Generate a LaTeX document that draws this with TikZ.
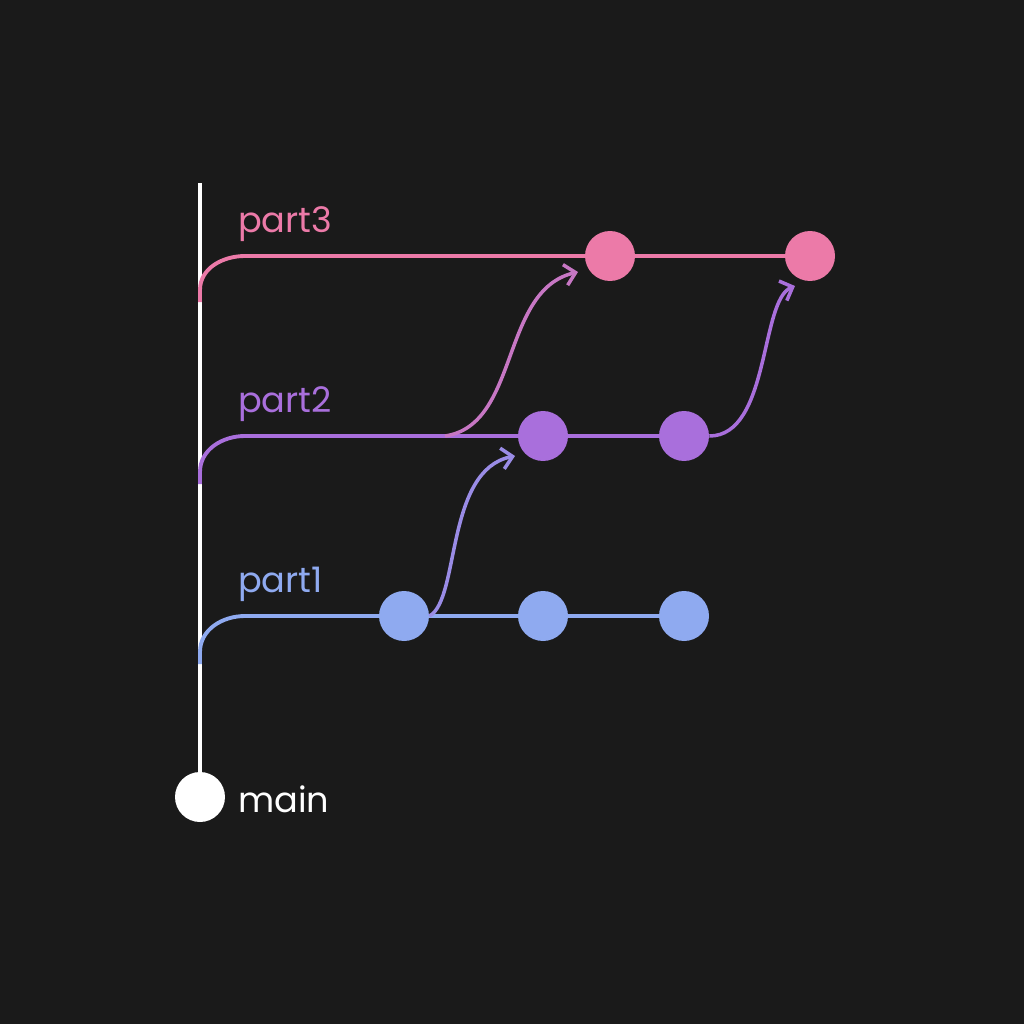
\documentclass[tikz,border=0pt]{standalone}
\usepackage{fontspec}
\setmainfont{Poppins}
\usetikzlibrary{arrows.meta}
\definecolor{bg}{HTML}{1A1A1A}
\definecolor{pinkc}{HTML}{EC7AA8}
\definecolor{purpc}{HTML}{A96FDC}
\definecolor{bluec}{HTML}{8FAAF0}
\definecolor{mixc}{HTML}{9A8CE6}
\definecolor{mixd}{HTML}{C777C4}
\tikzset{
  commit/.style={circle,fill=#1,minimum size=1.0cm,inner sep=0pt},
  branch/.style={line width=2.2pt,#1},
  merge/.style={line width=2pt,#1,-{Straight Barb[length=6pt,width=12pt]}},
  lbl/.style={font=\fontsize{20}{24}\selectfont,text=#1,anchor=west}
}
\begin{document}
\begin{tikzpicture}[x=0.02cm,y=-0.02cm]

    % background
    \fill[bg] (0,0) rectangle (1024,1024);
    \useasboundingbox (0,0) rectangle (1024,1024);

    % main line
    \coordinate (top) at (200,183);
    \draw[branch=white] (top) -- (200,797);
    \node[commit=white] (m) at (200,797) {};
    \node[lbl=white] at (232,799) {main};

    % branches
    \draw[branch=pinkc] (200,302) -- (200,290) to[out=90,in=180] (245,256) -- (810,256);
    \draw[branch=purpc] (200,484) -- (200,472) to[out=90,in=180] (245,436) -- (684,436);
    \draw[branch=bluec] (200,664) -- (200,652) to[out=90,in=180] (245,616) -- (684,616);

    % labels
    \node[lbl=pinkc] at (232,224) {part3};
    \node[lbl=purpc] at (232,404) {part2};
    \node[lbl=bluec] at (232,584) {part1};

    % commits
    \node[commit=pinkc] (c31) at (610,256) {};
    \node[commit=pinkc] (c32) at (810,256) {};
    \node[commit=purpc] (c21) at (543,436) {};
    \node[commit=purpc] (c22) at (684,436) {};
    \node[commit=bluec] (c11) at (404,616) {};
    \node[commit=bluec] (c12) at (543,616) {};
    \node[commit=bluec] (c13) at (684,616) {};

    % merges
    \coordinate (p2) at (445,436);
    \draw[merge=mixc] (c11.east) .. controls (460,600) and (445,470) .. (515,456);
    \draw[merge=mixd] (p2) .. controls (520,425) and (500,290) .. (578,272);
    \draw[merge=purpc] (c22.east) .. controls (770,436) and (760,300) .. (795,286);
\end{tikzpicture}
\end{document}
